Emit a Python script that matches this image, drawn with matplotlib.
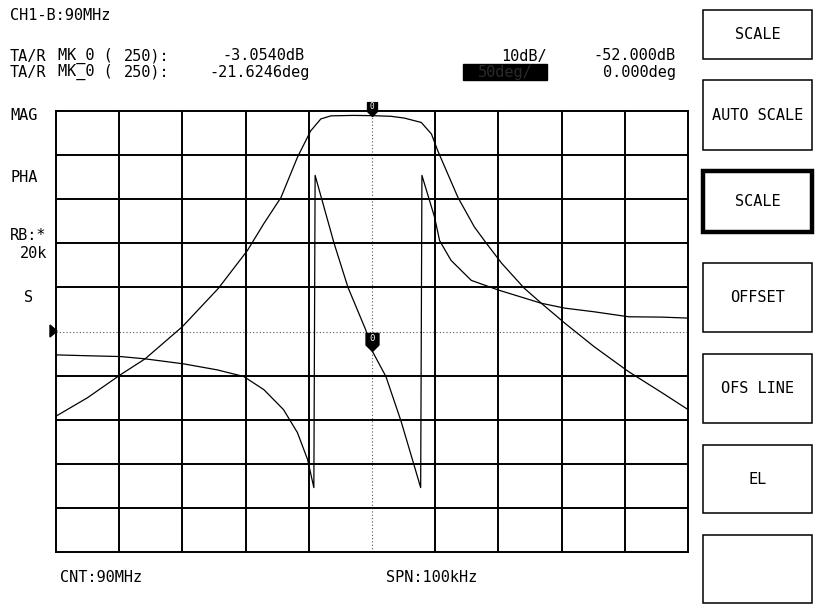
import numpy as np
import matplotlib
matplotlib.use("Agg")
import matplotlib.pyplot as plt
from matplotlib.path import Path
from matplotlib.markers import MarkerStyle
from matplotlib.patches import Rectangle, Polygon

# ---------------- data ----------------
# frequency offset from 90 MHz centre, kHz (span 100 kHz)
mag_f = [-50, -45, -39.8, -35.9, -30, -24.3, -19.7, -17.1, -14.4, -11.8, -9.7,
         -8.1, -6.5, -3, 0, 3, 5.1, 7.8, 9.4, 10.4, 13.6, 16.2, 18.1, 20.5,
         24.1, 26.8, 30.5, 35.2, 40.6, 45.9, 50]
mag_db = [-71.2, -67.0, -61.8, -58.2, -50.9, -42.2, -33.6, -27.5, -21.6, -12.5,
          -6.5, -3.8, -3.1, -3.0, -3.054, -3.2, -3.6, -4.6, -7.2, -11.0, -21.6,
          -28.3, -32.0, -36.5, -42.2, -45.6, -50.1, -55.5, -61.1, -65.9, -69.7]

ph_f = [-50, -45, -39.8, -35.9, -29.8, -24.5, -20.3, -17.1, -14, -11.8, -10.2,
        -9.2, -9.0, -6.0, -3.8, -1.0, 0, 2.2, 4.6, 6.7, 7.7, 7.9, 9.9, 10.7,
        12.5, 15.7, 20, 26.8, 30.5, 35.2, 40.6, 45.9, 50]
ph_deg = [-26.5, -27.5, -28.4, -31, -36.7, -43.5, -51, -66, -88.6, -114.6, -145,
          -177, 177, 100, 50, 2, -21.6246, -51, -101.8, -152.6, -177, 177, 129.6,
          103, 80.7, 58, 47, 32, 26.5, 22.3, 16.7, 16.3, 15.2]

marker_f = 0
marker_mag = -3.054
marker_ph = -21.6246

mag_ref, mag_div = -52.0, 10.0     # dB
ph_ref, ph_div = 0.0, 50.0         # deg
n_div = 10

softkeys = ["SCALE", "AUTO SCALE", "SCALE", "OFFSET", "OFS LINE", "EL", ""]
softkey_y = [(10, 59), (80, 150), (171, 232), (263, 332), (354, 423), (445, 513), (535, 603)]

# ---------------- figure ----------------
W, H = 818, 608
fig = plt.figure(figsize=(W / 100, H / 100), dpi=100)
fig.patch.set_facecolor("white")

FONT = "DejaVu Sans Mono"
FS = 11

gl, gr, gt, gb = 56, 688, 111, 552
ax = fig.add_axes([gl / W, 1 - gb / H, (gr - gl) / W, (gb - gt) / H])
ax.set_xlim(-50, 50)
ax.set_ylim(mag_ref - mag_div * n_div / 2, mag_ref + mag_div * n_div / 2)
ax.set_xticks([]); ax.set_yticks([])
for s in ax.spines.values():
    s.set_linewidth(1.4); s.set_color("black")

xs = np.linspace(-50, 50, n_div + 1)
ys = np.linspace(mag_ref - mag_div * 5, mag_ref + mag_div * 5, n_div + 1)
for i, x in enumerate(xs[1:-1], 1):
    if i == 5:
        ax.axvline(x, color="#555555", lw=0.8, ls=(0, (1, 2)))
    else:
        ax.axvline(x, color="black", lw=1.4)
for i, y in enumerate(ys[1:-1], 1):
    if i == 5:
        ax.axhline(y, color="#555555", lw=0.8, ls=(0, (1, 2)))
    else:
        ax.axhline(y, color="black", lw=1.4)

ax.plot(mag_f, mag_db, color="black", lw=0.9)

axp = ax.twinx()
axp.set_ylim(ph_ref - ph_div * 5, ph_ref + ph_div * 5)
axp.set_yticks([])
for s in axp.spines.values():
    s.set_visible(False)
axp.plot(ph_f, ph_deg, color="black", lw=0.9)

shield = Path([(-1, 2.8), (1, 2.8), (1, 1.0), (0, 0), (-1, 1.0), (-1, 2.8)],
              [Path.MOVETO, Path.LINETO, Path.LINETO, Path.LINETO, Path.LINETO, Path.CLOSEPOLY])
ax.plot([marker_f], [marker_mag], marker=MarkerStyle(shield), ms=20, color="black",
        clip_on=False, zorder=5)
ax.annotate("0", (marker_f, marker_mag), xytext=(0, 6.8), textcoords="offset points",
            ha="center", va="center", color="white", fontsize=5.5, family=FONT,
            annotation_clip=False, zorder=6)
axp.plot([marker_f], [marker_ph], marker=MarkerStyle(shield), ms=26, color="black",
         clip_on=False, zorder=5)
axp.annotate("0", (marker_f, marker_ph), xytext=(0, 8.8), textcoords="offset points",
             ha="center", va="center", color="white", fontsize=6.5, family=FONT,
             annotation_clip=False, zorder=6)

# ---------------- overlay (texts, softkeys) ----------------
ov = fig.add_axes([0, 0, 1, 1], zorder=10)
ov.set_xlim(0, W); ov.set_ylim(H, 0); ov.axis("off")
ov.patch.set_alpha(0)

def t(x, y, s, ha="left", color="black", fs=FS):
    ov.text(x, y, s, ha=ha, va="center", family=FONT, fontsize=fs, color=color)

t(10, 16, "CH1-B:90MHz")
for yy, val, cx in [(56, "-3.0540dB", 263), (72, "-21.6246deg", 260)]:
    t(10, yy, "TA/R")
    t(58, yy, "MK_0 (")
    t(124, yy, "250):")
    t(cx, yy, val, ha="center")
t(547, 56, "10dB/", ha="right")
ov.add_patch(Rectangle((463, 64), 84, 16, color="black"))
t(505, 72, "50deg/", ha="center", color="#2a2a2a")
t(676, 56, "-52.000dB", ha="right")
t(676, 72, "0.000deg", ha="right")

t(10, 115, "MAG")
t(10, 178, "PHA")
t(10, 235, "RB:*")
t(47, 253, "20k", ha="right")
t(33, 297, "S", ha="right")
ov.add_patch(Polygon([(50, 325), (50, 337), (57, 331)], closed=True, color="black"))

t(60, 578, "CNT:90MHz")
t(386, 578, "SPN:100kHz")

for lab, (y0, y1) in zip(softkeys, softkey_y):
    thick = (y0 == 171)
    ov.add_patch(Rectangle((703, y0), 109, y1 - y0, fill=False, ec="black",
                           lw=3.2 if thick else 1.1))
    if lab:
        t(757.5, (y0 + y1) / 2, lab, ha="center")

fig.savefig("out.png", dpi=100)
